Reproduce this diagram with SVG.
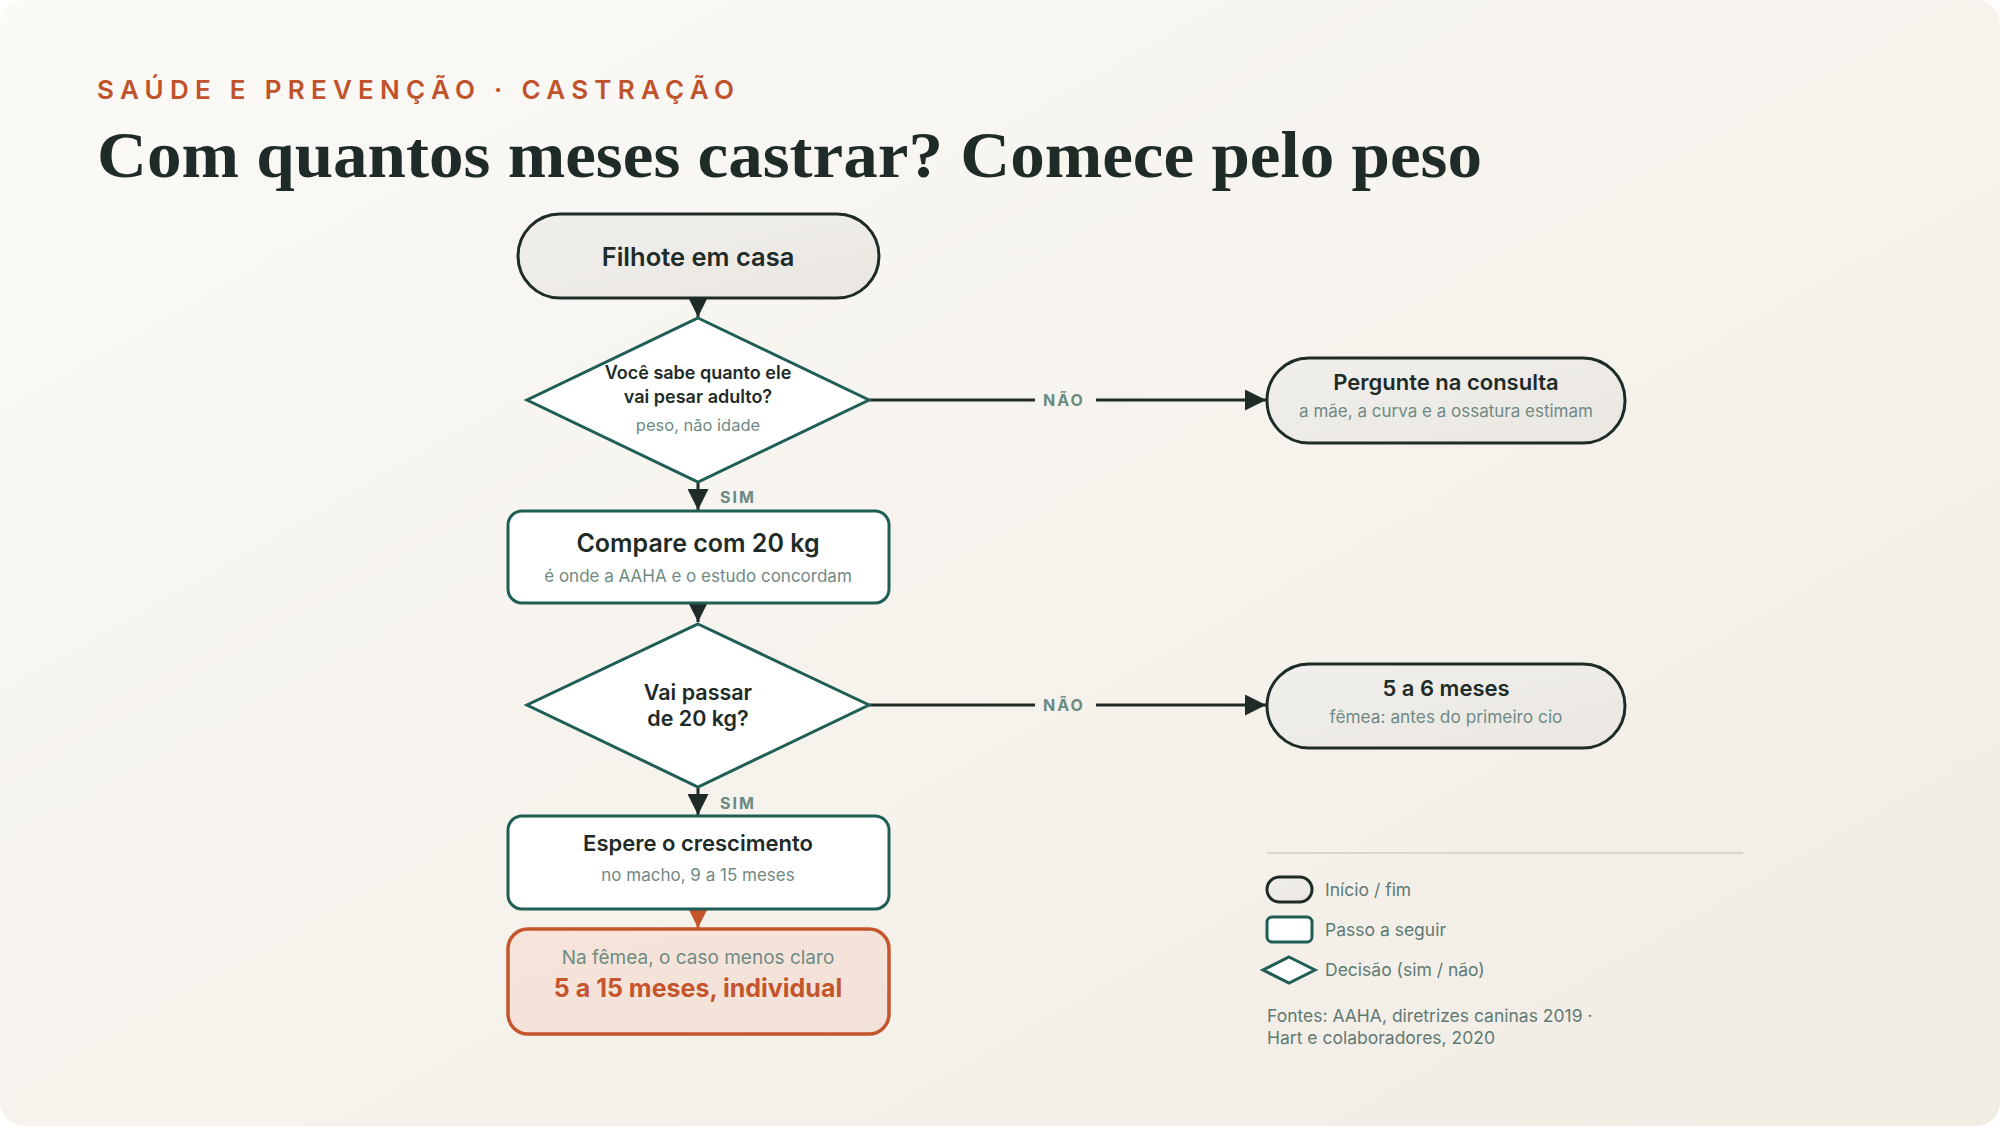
<svg xmlns="http://www.w3.org/2000/svg" width="2000" height="1126" viewBox="0 0 2000 1126">
<defs>
<linearGradient id="bg" x1="0" y1="0" x2="1" y2="1">
<stop offset="0" stop-color="#FBFAF7"/>
<stop offset="1" stop-color="#F1ECE4"/>
</linearGradient>
<linearGradient id="pill" x1="0" y1="0" x2="1" y2="1">
<stop offset="0" stop-color="#F1EFEC"/>
<stop offset="1" stop-color="#EAE7E2"/>
</linearGradient>
<linearGradient id="warm" x1="0" y1="0" x2="1" y2="1">
<stop offset="0" stop-color="#F7E4DA"/>
<stop offset="1" stop-color="#F2E2D9"/>
</linearGradient>
<marker id="ah" viewBox="0 0 10 10" refX="10" refY="5" markerWidth="7" markerHeight="7" markerUnits="strokeWidth" orient="auto">
<path d="M0,0 L10,5 L0,10 z" fill="#1E2B27"/>
</marker>
<marker id="aho" viewBox="0 0 10 10" refX="10" refY="5" markerWidth="6" markerHeight="6" markerUnits="strokeWidth" orient="auto">
<path d="M0,0 L10,5 L0,10 z" fill="#C4552D"/>
</marker>
</defs>
<style>
.t{font-family:Inter,"Noto Sans","Liberation Sans",sans-serif;}
.main{fill:#1E2B27;font-weight:600;text-anchor:middle;}
.sub{fill:#6F8A83;font-weight:400;text-anchor:middle;}
.lab{fill:#6A8A82;font-weight:700;font-size:16px;letter-spacing:2px;}
.term{fill:url(#pill);stroke:#1E2B27;stroke-width:3;}
.step{fill:#FFFFFF;stroke:#1F5E55;stroke-width:3;}
.dec{fill:#FFFFFF;stroke:#1F5E55;stroke-width:3;}
.con{fill:none;stroke:#1E2B27;stroke-width:3;}
.leg{fill:#5F7A72;font-size:17.5px;}
</style>
<rect x="0" y="0" width="2000" height="1126" rx="24" fill="url(#bg)"/>

<text x="97" y="99" class="t" font-size="26" font-weight="600" fill="#C0532B" textLength="637" lengthAdjust="spacing">SAÚDE E PREVENÇÃO · CASTRAÇÃO</text>
<text x="97" y="177" font-family="'Liberation Serif','DejaVu Serif',serif" font-size="66" font-weight="700" fill="#1E2B27" textLength="1385" lengthAdjust="spacingAndGlyphs">Com quantos meses castrar? Comece pelo peso</text>

<g id="connectors">
<line class="con" x1="698" y1="298" x2="698" y2="317" marker-end="url(#ah)"/>
<line class="con" x1="698" y1="482" x2="698" y2="510" marker-end="url(#ah)"/>
<line class="con" x1="698" y1="603" x2="698" y2="622" marker-end="url(#ah)"/>
<line class="con" x1="698" y1="787" x2="698" y2="815" marker-end="url(#ah)"/>
<line x1="698" y1="909" x2="698" y2="928" stroke="#C4552D" stroke-width="3" marker-end="url(#aho)"/>
<line class="con" x1="869" y1="400" x2="1035" y2="400"/>
<line class="con" x1="1096" y1="400" x2="1266" y2="400" marker-end="url(#ah)"/>
<line class="con" x1="869" y1="705" x2="1035" y2="705"/>
<line class="con" x1="1096" y1="705" x2="1266" y2="705" marker-end="url(#ah)"/>
<text x="1043" y="406" class="t lab">NÃO</text>
<text x="1043" y="711" class="t lab">NÃO</text>
<text x="720" y="503" class="t lab">SIM</text>
<text x="720" y="809" class="t lab">SIM</text>
</g>

<g id="start">
<rect class="term" x="518" y="214" width="361" height="84" rx="42"/>
<text x="698" y="266" class="t main" font-size="25.5">Filhote em casa</text>
</g>

<g id="q-peso">
<polygon class="dec" points="698,318 869,400 698,482 527,400"/>
<text x="698" y="379" class="t main" font-size="18" font-weight="500">Você sabe quanto ele</text>
<text x="698" y="403" class="t main" font-size="18" font-weight="500">vai pesar adulto?</text>
<text x="698" y="431" class="t sub" font-size="16.5">peso, não idade</text>
</g>

<g id="consulta">
<rect class="term" x="1267" y="358" width="358" height="85" rx="42"/>
<text x="1446" y="390" class="t main" font-size="22">Pergunte na consulta</text>
<text x="1446" y="417" class="t sub" font-size="17">a mãe, a curva e a ossatura estimam</text>
</g>

<g id="compare">
<rect class="step" x="508" y="511" width="381" height="92" rx="14"/>
<text x="698" y="552" class="t main" font-size="25" font-weight="500">Compare com 20 kg</text>
<text x="698" y="582" class="t sub" font-size="17">é onde a AAHA e o estudo concordam</text>
</g>

<g id="q-20kg">
<polygon class="dec" points="698,624 869,705 698,787 527,705"/>
<text x="698" y="700" class="t main" font-size="21.5" font-weight="500">Vai passar</text>
<text x="698" y="726" class="t main" font-size="21.5" font-weight="500">de 20 kg?</text>
</g>

<g id="cinco-seis">
<rect class="term" x="1267" y="664" width="358" height="84" rx="42"/>
<text x="1446" y="696" class="t main" font-size="22" font-weight="500">5 a 6 meses</text>
<text x="1446" y="723" class="t sub" font-size="17.3">fêmea: antes do primeiro cio</text>
</g>

<g id="espere">
<rect class="step" x="508" y="816" width="381" height="93" rx="14"/>
<text x="698" y="851" class="t main" font-size="22" font-weight="500">Espere o crescimento</text>
<text x="698" y="881" class="t sub" font-size="17">no macho, 9 a 15 meses</text>
</g>

<g id="femea">
<rect x="508" y="929" width="381" height="105" rx="20" fill="url(#warm)" stroke="#C4552D" stroke-width="3.5"/>
<text x="698" y="964" class="t sub" font-size="19">Na fêmea, o caso menos claro</text>
<text x="698" y="997" class="t" font-size="25" font-weight="700" fill="#C4552D" text-anchor="middle">5 a 15 meses, individual</text>
</g>

<g id="legend">
<line x1="1267" y1="853" x2="1743" y2="853" stroke="#DAD6CF" stroke-width="2"/>
<rect class="term" x="1267" y="877" width="45" height="25" rx="12.5"/>
<text x="1325" y="896" class="t leg">Início / fim</text>
<rect class="step" x="1267" y="917" width="45" height="25" rx="5"/>
<text x="1325" y="936" class="t leg">Passo a seguir</text>
<polygon class="dec" points="1289,957 1315,970 1289,983 1263,970"/>
<text x="1325" y="976" class="t leg">Decisão (sim / não)</text>
<text x="1267" y="1022" class="t leg" font-size="17">Fontes: AAHA, diretrizes caninas 2019 ·</text>
<text x="1267" y="1044" class="t leg" font-size="17">Hart e colaboradores, 2020</text>
</g>
</svg>
